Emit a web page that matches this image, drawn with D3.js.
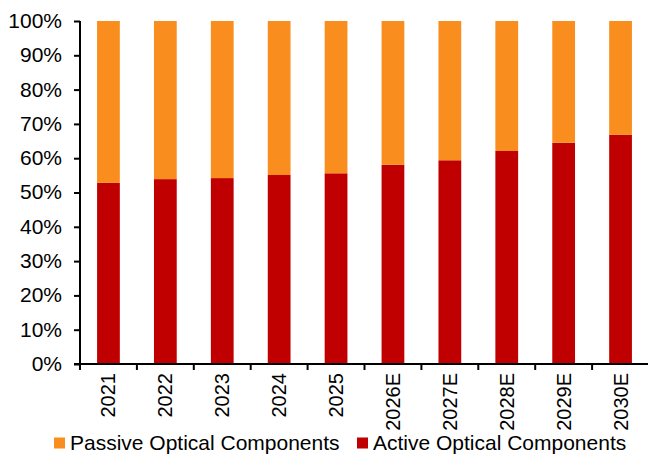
<!DOCTYPE html>
<html>
<head>
<meta charset="utf-8">
<script src="https://cdn.jsdelivr.net/npm/d3@7"></script>
<style>
  html, body { margin: 0; padding: 0; background: #fff; }
  svg { display: block; font-family: "Liberation Sans", Arial, sans-serif; }
</style>
</head>
<body>
<svg id="chart" width="648" height="454"></svg>
<script>
// Share of optical component market, active vs passive (%)
const years = ["2021", "2022", "2023", "2024", "2025", "2026E", "2027E", "2028E", "2029E", "2030E"];
const activeShare = [52.8, 53.9, 54.2, 55.1, 55.6, 58.1, 59.4, 62.1, 64.5, 66.8];
const passiveShare = activeShare.map(v => 100 - v);
const yTicks = [0, 10, 20, 30, 40, 50, 60, 70, 80, 90, 100];
const seriesNames = ["Active Optical Components", "Passive Optical Components"];
const seriesColors = ["#C00000", "#F98E1E"];

const svg = d3.select("#chart");
const margin = { left: 80, top: 21 };
const bandStep = 56.9;
const widen = 1.05; // slightly wider glyphs for horizontal text

const x = d3.scaleBand()
  .domain(years)
  .range([margin.left, margin.left + bandStep * years.length])
  .paddingInner(0.6)
  .paddingOuter(0.3);

const y = d3.scaleLinear().domain([0, 100]).range([364, 21]);

const rows = years.map((yr, i) => ({ year: yr, active: activeShare[i], passive: passiveShare[i] }));
const stacked = d3.stack().keys(["active", "passive"])(rows);

svg.append("g")
  .selectAll("g")
  .data(stacked)
  .join("g")
  .attr("fill", (d, i) => seriesColors[i])
  .selectAll("rect")
  .data(d => d)
  .join("rect")
  .attr("x", d => x(d.data.year))
  .attr("width", x.bandwidth())
  .attr("y", d => y(d[1]))
  .attr("height", d => y(d[0]) - y(d[1]));

// Y axis
const yAxis = svg.append("g")
  .attr("transform", `translate(${margin.left},0)`)
  .call(d3.axisLeft(y).tickValues(yTicks).tickFormat(d => d + "%").tickSize(6).tickPadding(12));
yAxis.select(".domain").attr("stroke", "#000").attr("stroke-width", 2).attr("d", `M0,${y(0)}V${y(100)}`);
yAxis.selectAll(".tick line").attr("stroke", "#000").attr("stroke-width", 2);
yAxis.selectAll(".tick text")
  .attr("x", 0)
  .attr("transform", `translate(-18,0) scale(${widen},1)`)
  .attr("font-size", 20)
  .attr("fill", "#000");

// X axis with tick marks between categories
const xAxisG = svg.append("g").attr("transform", `translate(0,${y(0)})`);
xAxisG.append("line")
  .attr("x1", margin.left - 6).attr("x2", 648)
  .attr("stroke", "#000").attr("stroke-width", 2);
const boundaries = d3.range(years.length + 1).map(i => margin.left + i * x.step());
xAxisG.selectAll("line.sep")
  .data(boundaries)
  .join("line")
  .attr("class", "sep")
  .attr("x1", d => d).attr("x2", d => d)
  .attr("y1", 0).attr("y2", 6)
  .attr("stroke", "#000").attr("stroke-width", 2);
xAxisG.selectAll("text")
  .data(years)
  .join("text")
  .attr("transform", d => `translate(${x(d) + x.bandwidth() / 2 + 7},9) rotate(-90)`)
  .attr("text-anchor", "end")
  .attr("font-size", 20)
  .attr("fill", "#000")
  .text(d => d);

// Legend
const legendItems = [
  { name: seriesNames[1], color: seriesColors[1], x: 54 },
  { name: seriesNames[0], color: seriesColors[0], x: 357 }
];
const legend = svg.append("g").attr("transform", "translate(0,443)");
const li = legend.selectAll("g").data(legendItems).join("g")
  .attr("transform", d => `translate(${d.x},0)`);
li.append("rect").attr("x", 0).attr("y", -5.5).attr("width", 11).attr("height", 11).attr("fill", d => d.color);
li.append("text")
  .attr("transform", `translate(16,7) scale(${widen},1)`)
  .attr("font-size", 20)
  .attr("fill", "#000")
  .text(d => d.name);
</script>
</body>
</html>
